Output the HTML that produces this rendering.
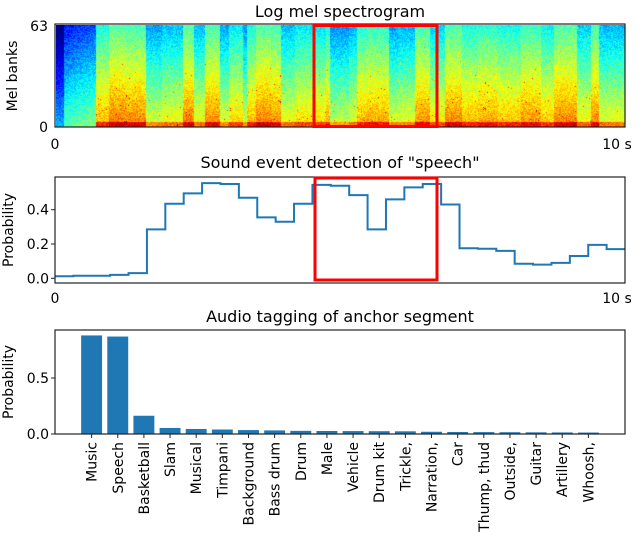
<!DOCTYPE html>
<html><head><meta charset="utf-8"><style>
html,body{margin:0;padding:0;background:#fff;}
#wrap{position:relative;width:640px;height:543px;overflow:hidden;font-family:"DejaVu Sans","Liberation Sans",sans-serif;}
canvas{position:absolute;left:56px;top:25px;}
svg{position:absolute;left:0;top:0;}
text{fill:#000;}
</style></head><body>
<div id="wrap">
<canvas id="spec" width="569" height="102"></canvas>
<svg id="svg" width="640" height="543"></svg>
</div>
<script>
const sedValues=[0.012,0.015,0.015,0.02,0.03,0.285,0.435,0.495,0.555,0.55,0.47,0.355,0.33,0.435,0.545,0.54,0.485,0.285,0.46,0.53,0.55,0.43,0.175,0.172,0.16,0.085,0.08,0.09,0.13,0.195,0.17];
const sedTicks=[0,0.2,0.4];
const tagCategories=["Music","Speech","Basketball","Slam","Musical","Timpani","Background","Bass drum","Drum","Male","Vehicle","Drum kit","Trickle,","Narration,","Car","Thump, thud","Outside,","Guitar","Artillery","Whoosh,"];
const tagValues=[0.88,0.87,0.163,0.054,0.045,0.04,0.035,0.032,0.028,0.027,0.026,0.025,0.024,0.02,0.018,0.017,0.016,0.015,0.014,0.013];
const tagTicks=[0,0.5];

const NS="http://www.w3.org/2000/svg";
const svg=document.getElementById('svg');
function mk(tag,attrs,parent,txt){const e=document.createElementNS(NS,tag);for(const k in attrs)e.setAttribute(k,attrs[k]);if(txt!==undefined)e.textContent=txt;(parent||svg).appendChild(e);return e;}
const L=55,R=625;

// spectrogram texture
(function(){
const c=document.getElementById('spec').getContext('2d');
const W=569,H=102;let s=12345;function rnd(){s=(s*1103515245+12345)%2147483648;return s/2147483648;}
function jet(v){v=Math.max(0,Math.min(1,v));const r=Math.min(1,Math.max(0,1.5-Math.abs(4*v-3))),g=Math.min(1,Math.max(0,1.5-Math.abs(4*v-2))),b=Math.min(1,Math.max(0,1.5-Math.abs(4*v-1)));return[r*255,g*255,b*255];}
const img=c.createImageData(W,H);let lvl=0.5,left=0;
for(let x=0;x<W;x++){
 if(left<=0){left=4+Math.floor(rnd()*20);lvl=0.36+rnd()*0.2;}left--;
 let xl=lvl;if(x<40)xl=0.22+x*0.002; if(x<8)xl=0.08;
 for(let y=0;y<H;y++){const f=1-y/H;let v=xl+(1-f)*0.32-0.1+(rnd()-0.5)*0.12;
  if(x>=40&&y>H-6)v+=0.15;
  if(x>=40&&rnd()<0.01*(1-f))v+=0.2;
  const p=jet(v),i=(y*W+x)*4;img.data[i]=p[0];img.data[i+1]=p[1];img.data[i+2]=p[2];img.data[i+3]=255;}
}
c.putImageData(img,0,0);
})();

// Panel 1 axes
mk('text',{x:340,y:17,'text-anchor':'middle','font-size':16,},svg,'Log mel spectrogram');
mk('rect',{x:L,y:24,width:R-L,height:103,fill:'none',stroke:'#222','stroke-width':1.2,});
mk('text',{x:48,y:31,'text-anchor':'end','font-size':14,},svg,'63');
mk('text',{x:48,y:132,'text-anchor':'end','font-size':14,},svg,'0');
mk('text',{x:0,y:0,transform:'translate(17,76) rotate(-90)','text-anchor':'middle','font-size':14,},svg,'Mel banks');
mk('text',{x:L,y:149,'text-anchor':'middle','font-size':14,},svg,'0');
mk('text',{x:R-8,y:149,'text-anchor':'middle','font-size':14,},svg,'10 s');
mk('rect',{x:314,y:25.5,width:123,height:101,fill:'none',stroke:'#f00','stroke-width':3,});

// Panel 2 SED
const y2=v=>278.3-v*171.5;
mk('text',{x:340,y:168,'text-anchor':'middle','font-size':16,},svg,'Sound event detection of "speech"');
const segW=(R-L)/sedValues.length;
let d='';sedValues.forEach((v,i)=>{const x0=L+i*segW,x1=x0+segW;d+=(i?'L':'M')+x0+' '+y2(v)+'L'+x1+' '+y2(v);});
const sl=mk('path',{d:d,fill:'none',stroke:'#1f77b4','stroke-width':2});


mk('rect',{x:L,y:177,width:R-L,height:106,fill:'none',stroke:'#222','stroke-width':1.2,});
sedTicks.forEach(t=>{
 const ln=mk('line',{x1:L-4,x2:L,y1:y2(t),y2:y2(t),stroke:'#222'});
 
 
 const tx=mk('text',{x:L-6,y:y2(t)+5,'text-anchor':'end','font-size':14},svg,t.toFixed(1));
 
 
});
mk('text',{x:0,y:0,transform:'translate(13,230) rotate(-90)','text-anchor':'middle','font-size':14,},svg,'Probability');
mk('text',{x:L,y:303,'text-anchor':'middle','font-size':14,},svg,'0');
mk('text',{x:R-8,y:303,'text-anchor':'middle','font-size':14,},svg,'10 s');
mk('rect',{x:315,y:178,width:122,height:102,fill:'none',stroke:'#f00','stroke-width':3,});

// Panel 3 bars
const y3=v=>434-v*112;
const step=(R-L)/(tagCategories.length+1.8);
const x3=i=>L+(i+1.4)*step;
mk('text',{x:340,y:322,'text-anchor':'middle','font-size':16,},svg,'Audio tagging of anchor segment');
tagValues.forEach((v,i)=>{
 const b=mk('rect',{x:x3(i)-step*0.4,y:y3(v),width:step*0.8,height:434-y3(v),fill:'#1f77b4'});
 
 
 const tk=mk('line',{x1:x3(i),x2:x3(i),y1:434,y2:438,stroke:'#222'});
 
 
 const lb=mk('text',{x:0,y:0,transform:'translate('+(x3(i)+5)+',442) rotate(-90)','text-anchor':'end','font-size':14},svg,tagCategories[i]);
 
 
});
mk('rect',{x:L,y:330,width:R-L,height:104,fill:'none',stroke:'#222','stroke-width':1.2,});
tagTicks.forEach(t=>{
 const ln=mk('line',{x1:L-4,x2:L,y1:y3(t),y2:y3(t),stroke:'#222'});
 
 
 const tx=mk('text',{x:L-6,y:y3(t)+5,'text-anchor':'end','font-size':14},svg,t.toFixed(1));
 
 
});
mk('text',{x:0,y:0,transform:'translate(13,382) rotate(-90)','text-anchor':'middle','font-size':14,},svg,'Probability');
</script>
</body></html>
